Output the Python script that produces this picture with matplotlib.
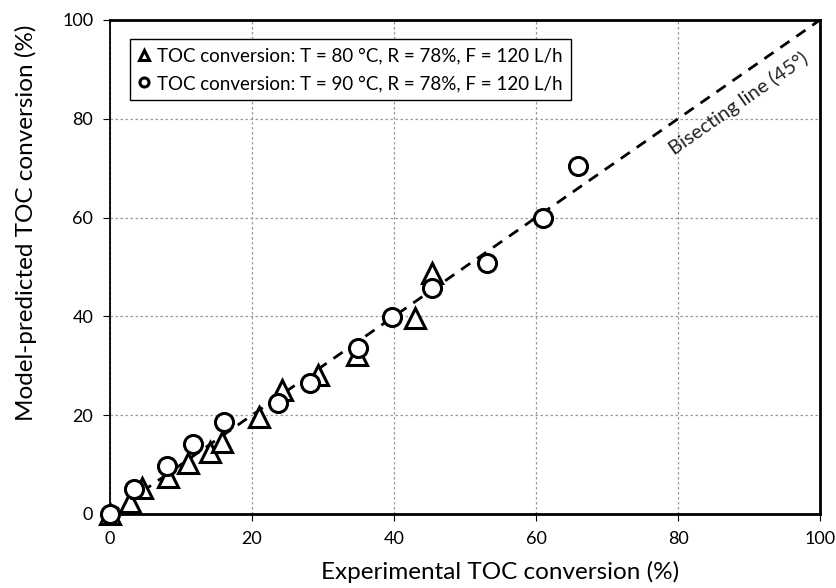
import matplotlib.pyplot as plt
import numpy as np

plt.rcParams['font.family'] = ['Lato', 'DejaVu Sans']

# TOC conversion, experimental vs model (%), T = 80 C
exp_80 = [0.0, 2.8, 4.5, 8.2, 11.0, 14.1, 15.8, 21.0, 24.2, 29.3, 34.8, 43.0, 45.4]
mod_80 = [0.0, 2.5, 5.3, 7.5, 10.3, 12.6, 14.6, 19.6, 25.0, 28.1, 32.2, 39.7, 48.8]

# T = 90 C
exp_90 = [0.0, 3.4, 8.0, 11.7, 16.0, 23.7, 28.2, 35.0, 39.7, 45.4, 53.1, 61.0, 65.9]
mod_90 = [0.0, 5.0, 9.7, 14.2, 18.6, 22.5, 26.5, 33.6, 39.8, 45.8, 50.9, 60.0, 70.5]

ticks = [0, 20, 40, 60, 80, 100]

fig = plt.figure(figsize=(8.37, 5.88), dpi=100)
ax = fig.add_axes([0.1314, 0.1259, 0.8483, 0.8401])

ax.plot([0, 100], [0, 100], ls=(0, (4, 3)), color='black', lw=2, zorder=2)

ax.plot(exp_80, mod_80, ls='none', marker='^', ms=14, mfc='white', mec='black',
        mew=2.2, label='TOC conversion: T = 80 °C, R = 78%, F = 120 L/h',
        zorder=5, clip_on=False)
ax.plot(exp_90, mod_90, ls='none', marker='o', ms=13, mfc='white', mec='black',
        mew=2.2, label='TOC conversion: T = 90 °C, R = 78%, F = 120 L/h',
        zorder=6, clip_on=False)

ax.text(88.5, 83.0, 'Bisecting line (45°)', rotation=45, transform_rotates_text=True,
        ha='center', va='center', rotation_mode='anchor', fontsize=14.5, color='#222222')

ax.set_xlim(0, 100)
ax.set_ylim(0, 100)
ax.set_xticks(ticks)
ax.set_yticks(ticks)
ax.tick_params(labelsize=13, length=5, width=0.8, pad=7)
ax.grid(True, ls=(0, (2, 2)), color='#999999', lw=0.9)
for s in ax.spines.values():
    s.set_linewidth(2)
ax.spines['left'].set_linewidth(1.3)

ax.set_xlabel('Experimental TOC conversion (%)', fontsize=17.5)
ax.set_ylabel('Model-predicted TOC conversion (%)', fontsize=17.5)
ax.xaxis.set_label_coords(0.55, -0.095)
ax.yaxis.set_label_coords(-0.103, 0.589)

leg = ax.legend(loc='upper left', bbox_to_anchor=(0.015, 0.98), fontsize=13.5,
                markerscale=0.5, handlelength=0.6, handletextpad=0.4,
                borderpad=0.45, labelspacing=0.55, fancybox=False, framealpha=1)
leg.get_frame().set_edgecolor('black')
leg.get_frame().set_linewidth(1)

fig.savefig('out.png', dpi=100)
